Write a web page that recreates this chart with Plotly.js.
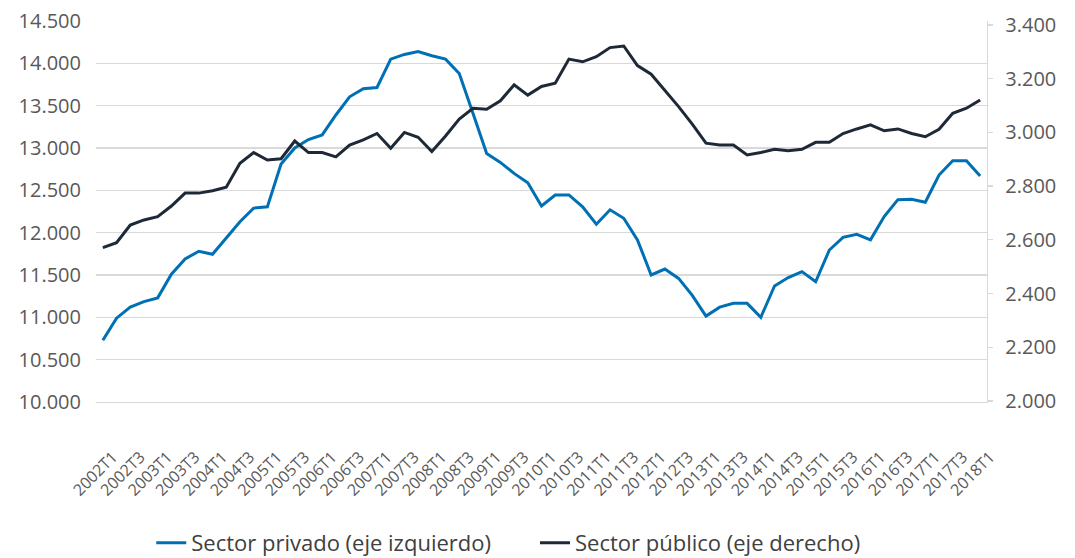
<!DOCTYPE html>
<html>
<head>
<meta charset="utf-8">
<script src="https://cdn.plot.ly/plotly-3.0.1.min.js"></script>
<style>
  html, body { margin: 0; padding: 0; background: #ffffff; }
  #chart { width: 1075px; height: 558px; }
</style>
</head>
<body>
<div id="chart"></div>
<script>
// Quarters 2002T1 .. 2018T1
const quarters = [];
for (let y = 2002; y <= 2018; y++) {
  for (let q = 1; q <= 4; q++) {
    if (y === 2018 && q > 1) break;
    quarters.push(y + "T" + q);
  }
}

// Sector privado (eje izquierdo)
const privado = [
  10730, 10990, 11120, 11185, 11230, 11510, 11690, 11780, 11745, 11940,
  12130, 12290, 12305, 12810, 13000, 13100, 13155, 13390, 13605, 13700,
  13715, 14050, 14105, 14140, 14090, 14050, 13880, 13410, 12935, 12830,
  12700, 12590, 12315, 12445, 12445, 12305, 12100, 12270, 12170, 11915,
  11500, 11570, 11460, 11260, 11015, 11120, 11165, 11165, 11000, 11370,
  11470, 11540, 11420, 11795, 11945, 11980, 11915, 12190, 12390, 12395,
  12360, 12680, 12850, 12850, 12670
];

// Sector público (eje derecho)
const publico = [
  2571, 2589, 2655, 2674, 2686, 2726, 2774, 2774, 2783, 2796,
  2885, 2925, 2897, 2902, 2968, 2925, 2925, 2909, 2953, 2972,
  2996, 2941, 3000, 2982, 2929, 2987, 3050, 3090, 3086, 3118,
  3177, 3139, 3171, 3183, 3273, 3263, 3282, 3316, 3322, 3249,
  3217, 3158, 3096, 3031, 2960, 2953, 2953, 2916, 2925, 2937,
  2932, 2937, 2963, 2963, 2996, 3013, 3028, 3006, 3013, 2996,
  2984, 3012, 3071, 3090, 3121
];

const tickLabels = quarters.filter((q, i) => i % 2 === 0);
const leftTicks = [10000, 10500, 11000, 11500, 12000, 12500, 13000, 13500, 14000, 14500];
const rightTicks = [2000, 2200, 2400, 2600, 2800, 3000, 3200, 3400];

const seriesNames = ["Sector privado (eje izquierdo)", "Sector público (eje derecho)"];
const colors = ["#0070b4", "#1e2937"];

const traces = [
  {
    x: quarters, y: privado, type: "scatter", mode: "lines",
    name: seriesNames[0], yaxis: "y", legend: "legend",
    line: { color: colors[0], width: 3 }
  },
  {
    x: quarters, y: publico, type: "scatter", mode: "lines",
    name: seriesNames[1], yaxis: "y2", legend: "legend2",
    line: { color: colors[1], width: 3 }
  }
];

const tickFont = { family: "Open Sans, Noto Sans, sans-serif", size: 20, color: "#595959" };
const legendFont = { family: "Open Sans, Noto Sans, sans-serif", size: 22, color: "#404040" };

const layout = {
  width: 1075, height: 558,
  margin: { l: 96, r: 88, t: 21, b: 156, autoexpand: false },
  paper_bgcolor: "#ffffff", plot_bgcolor: "#ffffff",
  separators: ",.",
  showlegend: true,
  legend: {
    orientation: "h",
    x: 0.062, xanchor: "left",
    y: -0.37, yanchor: "middle",
    font: legendFont, bgcolor: "rgba(0,0,0,0)"
  },
  legend2: {
    orientation: "h",
    x: 0.4927, xanchor: "left",
    y: -0.37, yanchor: "middle",
    font: legendFont, bgcolor: "rgba(0,0,0,0)"
  },
  xaxis: {
    type: "category",
    categoryorder: "array", categoryarray: quarters,
    range: [-0.5, quarters.length - 0.5],
    tickmode: "array", tickvals: tickLabels, ticktext: tickLabels,
    tickangle: -45,
    tickfont: { family: "Open Sans, Noto Sans, sans-serif", size: 16, color: "#595959" },
    showgrid: false, zeroline: false,
    showline: true, linecolor: "#d9d9d9", linewidth: 1.3,
    ticks: "", ticklabelstandoff: 38, ticklabelshift: 10,
    automargin: false
  },
  yaxis: {
    range: [10000, 14500],
    tickvals: leftTicks, tickformat: ",.0f",
    tickfont: tickFont,
    showgrid: true, gridcolor: "#d9d9d9", gridwidth: 1.3,
    showline: false, zeroline: false, ticks: "",
    ticklabelstandoff: 14, automargin: false
  },
  yaxis2: {
    overlaying: "y", side: "right",
    range: [1996, 3415],
    tickvals: rightTicks, tickformat: ",.0f",
    tickfont: tickFont,
    showgrid: false, zeroline: false,
    showline: true, linecolor: "#d9d9d9", linewidth: 1.3,
    ticks: "outside", ticklen: 5, tickcolor: "#d9d9d9", tickwidth: 1.3,
    ticklabelstandoff: 8, automargin: false
  }
};

Plotly.newPlot("chart", traces, layout, { displayModeBar: false, staticPlot: true });
</script>
</body>
</html>
